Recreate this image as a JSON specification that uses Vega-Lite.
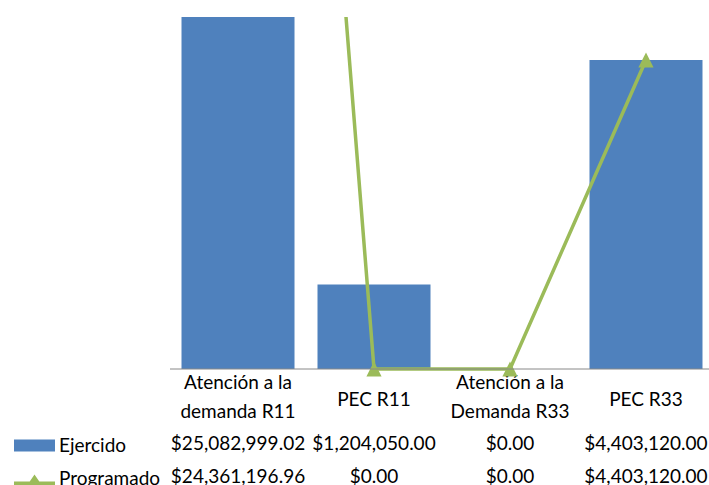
{
  "$schema": "https://vega.github.io/schema/vega-lite/v6.json",
  "autosize": {"type": "none"},
  "width": 539,
  "height": 360,
  "padding": {"left": 170, "top": 17, "right": 0, "bottom": 108},
  "background": "white",
  "config": {"view": {"stroke": null}, "font": "Lato"},
  "datasets": {
    "main": [
      {"cat": "Atención a la\ndemanda R11", "Ejercido": 25082999.02, "Programado": 24361196.96},
      {"cat": "PEC R11", "Ejercido": 1204050.00, "Programado": 0},
      {"cat": "Atención a la\nDemanda R33", "Ejercido": 0, "Programado": 0},
      {"cat": "PEC R33", "Ejercido": 4403120.00, "Programado": 4403120.00}
    ]
  },
  "data": {"name": "main"},
  "encoding": {
    "x": {
      "field": "cat", "type": "nominal", "sort": null,
      "scale": {"range": [0, 544], "paddingInner": 0.169, "paddingOuter": 0.0846},
      "axis": {
        "title": null, "domain": false, "ticks": false, "labelAngle": 0,
        "labelFont": "Lato", "labelFontSize": 19, "labelColor": "#000000",
        "labelBaseline": "middle", "labelLineHeight": 29,
        "labelPadding": {"condition": {"test": "indexof(datum.value, '\\n') < 0", "value": 22}, "value": 5},
        "labelExpr": "split(datum.label, '\\n')"
      }
    }
  },
  "layer": [
    {
      "layer": [
        {
          "mark": {"type": "bar", "clip": true},
          "encoding": {
            "y": {
              "field": "Ejercido", "type": "quantitative",
              "scale": {"domain": [-114000, 5016000], "nice": false, "zero": false},
              "axis": null
            },
            "color": {
              "datum": "Ejercido",
              "scale": {"domain": ["Ejercido", "Programado"], "range": ["#4F81BD", "#9BBB59"]},
              "legend": {
                "title": null, "orient": "none", "legendX": -156, "legendY": 408,
                "values": ["Ejercido", "Programado"],
                "symbolSize": 1681, "symbolStrokeWidth": 0,
                "labelFont": "Lato", "labelFontSize": 19, "labelColor": "#000000",
                "labelOffset": 4, "rowPadding": 2.5,
                "encode": {
                  "symbols": {
                    "update": {
                      "shape": {"signal": "datum.value === 'Ejercido' ? 'M-1,-0.29H1V0.29H-1Z' : 'M-1,0.12H1V0.32H-1Z M-0.37,0.32L0,-0.22L0.37,0.32Z'"},
                      "fill": {"signal": "datum.value === 'Ejercido' ? '#4F81BD' : '#9BBB59'"},
                      "stroke": {"value": "transparent"},
                      "opacity": {"value": 1},
                      "fillOpacity": {"value": 1},
                      "size": {"value": 1681}
                    }
                  }
                }
              }
            }
          }
        },
        {
          "mark": {"type": "line", "clip": true, "strokeWidth": 3.5},
          "encoding": {
            "y": {"field": "Programado", "type": "quantitative"},
            "color": {"datum": "Programado", "legend": null}
          }
        },
        {
          "mark": {"type": "point", "filled": true, "opacity": 1, "shape": "M0,-1L1,1L-1,1Z", "size": 230, "color": "#9BBB59"},
          "encoding": {
            "y": {"field": "Programado", "type": "quantitative"}
          }
        }
      ]
    },
    {
      "data": {"values": [{}]},
      "mark": {"type": "rule", "color": "#888888", "strokeWidth": 1},
      "encoding": {
        "x": null,
        "y": {"datum": 0, "type": "quantitative", "scale": {"domain": [-114000, 5016000], "nice": false, "zero": false}, "axis": null}
      }
    },
    {
      "transform": [{"fold": ["Ejercido", "Programado"], "as": ["serie", "valor"]}],
      "mark": {"type": "text", "font": "Lato", "fontSize": 19, "color": "#000000", "baseline": "alphabetic", "align": "center"},
      "encoding": {
        "y": {
          "field": "serie", "type": "nominal",
          "scale": {"type": "point", "domain": ["Ejercido", "Programado"], "range": [433, 465.5], "padding": 0},
          "axis": null
        },
        "text": {"field": "valor", "type": "quantitative", "format": "$,.2f"}
      }
    }
  ],
  "resolve": {"scale": {"y": "independent"}}
}
